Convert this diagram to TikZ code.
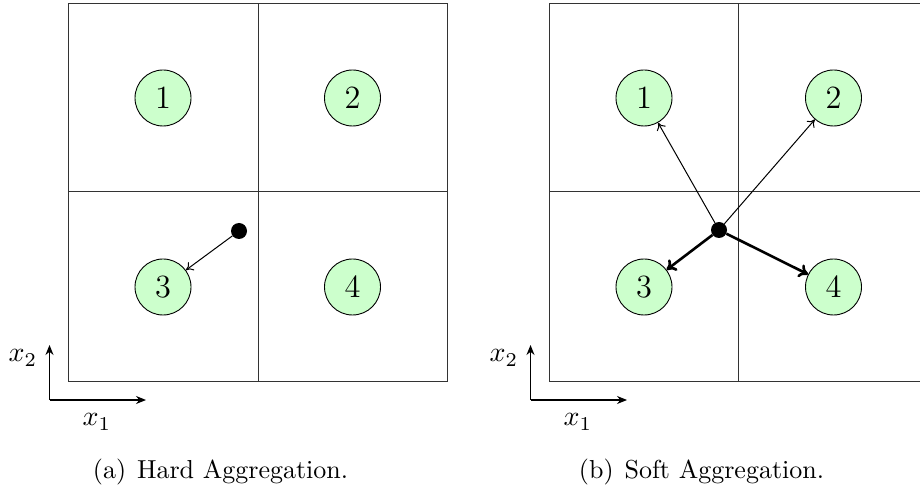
\documentclass[tikz,border=0pt]{standalone}
\usetikzlibrary{arrows.meta}
\newcommand{\celltxt}[1]{\scalebox{2.7}{\large #1}}
\newcommand{\axtxt}[1]{\scalebox{2.8}{$#1$}}
\begin{document}
\begin{tikzpicture}[x=1pt,y=1pt,
  grid/.style={draw=black!80,line width=1pt},
  cell/.style={circle,draw=black,line width=0.9pt,fill=green!20,minimum size=56pt,inner sep=0pt},
  dot/.style={circle,fill=black,minimum size=16pt,inner sep=0pt},
  thinarr/.style={-{To[length=7pt,width=10pt]},line width=1pt},
  thickarr/.style={-{To[length=9pt,width=14pt]},line width=2.6pt},
  axis/.style={-{Stealth[length=10pt,width=8pt]},line width=1.2pt},
  lab/.style={inner sep=0pt},
  captext/.style={font=\normalsize,anchor=base,inner sep=0pt}]
\useasboundingbox (0,0) rectangle (920,490);
% left panel
\draw[grid] (68,109) rectangle (447.5,486.5);
\draw[grid] (258,109) -- (258,486.5);
\draw[grid] (68,298) -- (447.5,298);
\node[cell] (a1) at (163,392) {\celltxt{1}};
\node[cell] (a2) at (352.5,392) {\celltxt{2}};
\node[cell] (a3) at (163,203) {\celltxt{3}};
\node[cell] (a4) at (352.5,203) {\celltxt{4}};
\node[dot] (ad) at (239,259) {};
\draw[thinarr] (ad) -- (a3);
\coordinate (ao) at (49.5,90);
\coordinate (ay) at (49.5,145);
\coordinate (ax) at (146,90);
\draw[axis] (ao) -- (ay);
\draw[axis] (ao) -- (ax);
% right panel
\draw[grid] (549,109) rectangle (929,486.5);
\draw[grid] (738.75,109) -- (738.75,486.5);
\draw[grid] (549,298) -- (929,298);
\node[cell] (b1) at (644,392) {\celltxt{1}};
\node[cell] (b2) at (833.5,392) {\celltxt{2}};
\node[cell] (b3) at (644,203) {\celltxt{3}};
\node[cell] (b4) at (833.5,203) {\celltxt{4}};
\node[dot] (bd) at (719,260) {};
\draw[thinarr] (bd) -- (b1);
\draw[thinarr] (bd) -- (b2);
\draw[thickarr] (bd) -- (b3);
\draw[thickarr] (bd) -- (b4);
\coordinate (bo) at (530.5,90);
\coordinate (by) at (530.5,145);
\coordinate (bx) at (627,90);
\draw[axis] (bo) -- (by);
\draw[axis] (bo) -- (bx);
% axis labels
\node[lab] (lx2a) at (23,132) {\axtxt{x_2}};
\node[lab] (lx1a) at (97,68) {\axtxt{x_1}};
\node[lab] (lx2b) at (504,132) {\axtxt{x_2}};
\node[lab] (lx1b) at (578,68) {\axtxt{x_1}};
% captions
\node[captext] (capa) at (220.5,12) {\scalebox{2.6}{(a)\hspace{4.2pt}Hard Aggregation.}};
\node[captext] (capb) at (701.5,12) {\scalebox{2.6}{(b)\hspace{4.2pt}Soft Aggregation.}};
\end{tikzpicture}
\end{document}
